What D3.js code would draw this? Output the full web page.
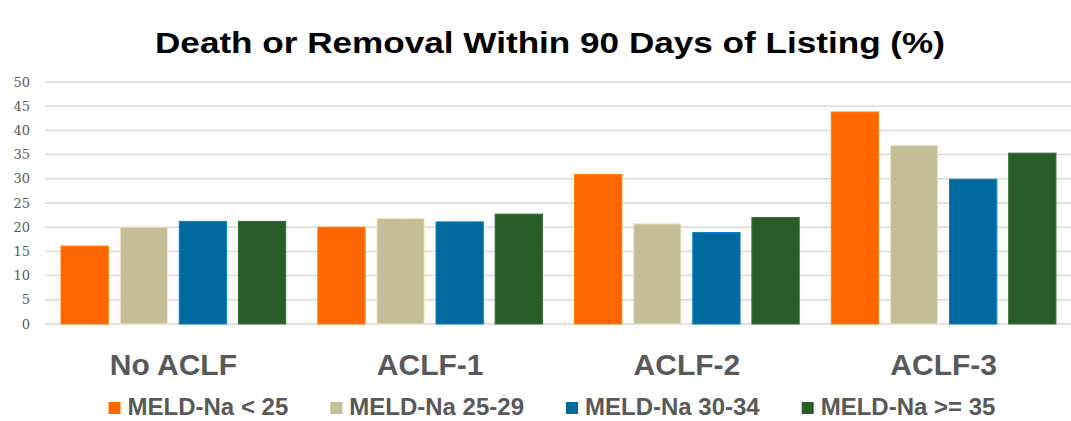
<!DOCTYPE html>
<html>
<head>
<meta charset="utf-8">
<script src="https://cdn.jsdelivr.net/npm/d3@7"></script>
<style>
  body { margin: 0; background: #fff; }
  svg { display: block; }
</style>
</head>
<body>
<div id="chart"></div>
<script>
// values
let groups = ['No ACLF', 'ACLF-1', 'ACLF-2', 'ACLF-3'];
let seriesNames = ['MELD-Na < 25', 'MELD-Na 25-29', 'MELD-Na 30-34', 'MELD-Na >= 35'];
let meldUnder25 = [16.1, 20.0, 30.9, 43.8];
let meld25to29 = [20.0, 21.8, 20.7, 36.9];
let meld30to34 = [21.2, 21.1, 18.9, 29.9];
let meldOver35 = [21.2, 22.7, 22.0, 35.3];
let yTicks = [0, 5, 10, 15, 20, 25, 30, 35, 40, 45, 50];
let colors = ['#ff6600', '#c4bd97', '#006aa0', '#285c29'];

let allSeries = [meldUnder25, meld25to29, meld30to34, meldOver35];

var w = 1071, h = 421;
var plotLeft = 45, plotRight = 1072, plotTop = 82, plotBottom = 324;

var svg = d3.select('#chart').append('svg')
    .attr('width', w).attr('height', h);

var x0 = d3.scaleBand().domain(groups).range([plotLeft, plotRight])
    .paddingInner(0.125).paddingOuter(0.0625);
var x1 = d3.scaleBand().domain(d3.range(seriesNames.length))
    .range([0, x0.bandwidth()]).paddingInner(0.2);
var y = d3.scaleLinear().domain([0, 50]).range([plotBottom, plotTop]);

// title
svg.append('text')
    .attr('x', 550).attr('y', 53)
    .attr('text-anchor', 'middle')
    .attr('textLength', 790).attr('lengthAdjust', 'spacingAndGlyphs')
    .style('font-family', '"Liberation Sans", Arial, sans-serif')
    .style('font-weight', 'bold').style('font-size', '29px')
    .attr('fill', '#000')
    .text('Death or Removal Within 90 Days of Listing (%)');

// grid
svg.append('g').selectAll('line').data(yTicks).enter().append('line')
    .attr('x1', plotLeft).attr('x2', w)
    .attr('y1', d => y(d)).attr('y2', d => y(d))
    .attr('stroke', '#d9d9d9').attr('stroke-width', 1.5);

// y axis labels
var yAxis = d3.axisLeft(y).tickValues(yTicks).tickSize(0).tickPadding(0);
var yg = svg.append('g').attr('transform', 'translate(30,0)').call(yAxis);
yg.select('.domain').remove();
yg.selectAll('text')
    .style('font-family', '"DejaVu Serif", Georgia, serif')
    .style('font-size', '13px').attr('fill', '#595959');

// bars
var bars = [];
allSeries.forEach((vals, s) => {
    vals.forEach((v, g) => bars.push({ group: groups[g], s: s, value: v }));
});

svg.append('g').selectAll('rect').data(bars).enter().append('rect')
    .attr('x', d => x0(d.group) + x1(d.s))
    .attr('y', d => y(d.value))
    .attr('width', x1.bandwidth())
    .attr('height', d => y(0) - y(d.value))
    .attr('fill', d => colors[d.s])
    .attr('stroke', d => d3.color(colors[d.s]).brighter(0.6))
    .attr('stroke-width', 1);

// category labels
svg.append('g').selectAll('text').data(groups).enter().append('text')
    .attr('x', d => x0(d) + x0.bandwidth() / 2)
    .attr('y', 375)
    .attr('text-anchor', 'middle')
    .style('font-family', '"Liberation Sans", Arial, sans-serif')
    .style('font-weight', 'bold').style('font-size', '30px')
    .attr('fill', '#595959')
    .text(d => d);

// legend
var legend = svg.append('g');
var items = legend.selectAll('g').data(seriesNames).enter().append('g');
items.append('rect')
    .attr('width', 12).attr('height', 12).attr('y', 402)
    .attr('fill', (d, i) => colors[i]);
items.append('text')
    .attr('x', 19).attr('y', 415)
    .style('font-family', '"Liberation Sans", Arial, sans-serif')
    .style('font-weight', 'bold').style('font-size', '24px')
    .attr('fill', '#595959')
    .text(d => d);

var pos = 0, gap = 42;
items.each(function() {
    var g = d3.select(this);
    g.attr('transform', 'translate(' + pos + ',0)');
    pos += 19 + g.select('text').node().getComputedTextLength() + gap;
});
var total = pos - gap;
legend.attr('transform', 'translate(' + (552 - total / 2) + ',0)');
</script>
</body>
</html>
